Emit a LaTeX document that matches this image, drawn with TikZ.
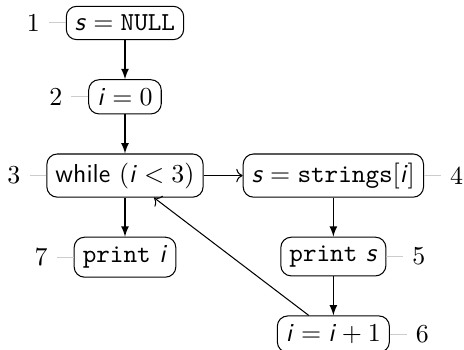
\documentclass[tikz,border=0pt]{standalone}
\usepackage{tikz}
\usetikzlibrary{positioning, arrows, arrows.meta}

\newcommand{\vs}{\textsf{\textit{s}}}
\newcommand{\vi}{\textsf{\textit{i}}}

\begin{document}
\begin{tikzpicture}[
                node distance=5.3mm,
                stmt/.style={draw=black, rectangle, rounded corners=4pt, font=\normalsize},
                flow/.style={-latex},
                back/.style={->},
                every pin edge/.style={gray!40},
                pin distance=6.5pt
            ]

            \useasboundingbox (0,0) rectangle (6.3,-4.74);

            % Anweisungen
            \node[stmt, pin=left:1] (n1) at (1.697,-0.312) {$\vs = \texttt{NULL}$};
            \node[stmt, pin=left:2, below=of n1] (n2) {$\vi = 0$};
            \node[stmt, pin=left:3, below=of n2] (n3) {\textsf{while} $(\vi < 3)$};
            \node[stmt, pin=left:7, below=of n3] (n7) {$\texttt{print}\ \vi$};
            \node[stmt, pin=right:4, right=of n3] (n4) {$\vs = \texttt{strings}[\vi]$};
            \node[stmt, pin=right:5, below=of n4] (n5) {$\texttt{print}\ \vs$};
            \node[stmt, pin=right:6, below=of n5] (n6) {$\vi = \vi + 1$};

            % Kontrollfluss
            \draw[flow] (n1) -- (n2);
            \draw[flow] (n2) -- (n3);
            \draw[flow] (n3) -- (n7);
            \draw[back] (n3) -- (n4);
            \draw[flow] (n4) -- (n5);
            \draw[flow] (n5) -- (n6);
            \draw[back] (n6) -- (n3);

        \end{tikzpicture}
\end{document}
